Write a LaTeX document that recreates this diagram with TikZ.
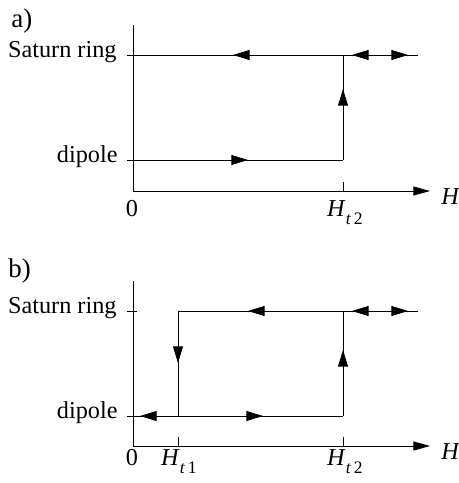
\documentclass[tikz,border=0pt]{standalone}
\usepackage{fontspec}
\setmainfont{Liberation Serif}
\usetikzlibrary{arrows.meta,decorations.markings}

\newcommand{\Hsub}[1]{\textit{H}\raisebox{-0.32em}{\fontsize{15}{18}\selectfont\textit{t}\,#1}}

\begin{document}
\begin{tikzpicture}[x=0.03cm,y=-0.03cm,line width=0.8pt,
  lbl/.style={font=\fontsize{20.7}{24}\selectfont, inner sep=0pt},
  panel/.style={font=\fontsize{23}{26}\selectfont, inner sep=0pt},
  axis/.style={-{Triangle[length=0.5cm,width=0.27cm]}},
  fwd/.style={postaction={decorate,decoration={markings,
    mark=at position #1 with {\arrow{Triangle[length=0.5cm,width=0.3cm]}}}}},
  bwd/.style={postaction={decorate,decoration={markings,
    mark=at position #1 with {\arrowreversed{Triangle[length=0.5cm,width=0.3cm]}}}}}]

  \useasboundingbox (0,0) rectangle (459,483);

  % Teil a)
  \node[panel, anchor=base west] (alab) at (11,28) {a)};
  \coordinate (aO) at (133,191);
  \coordinate (aY) at (133,25);
  \coordinate (aX) at (430,191);
  \coordinate (aDl) at (127,160);
  \coordinate (aDr) at (343,160);
  \coordinate (aSl) at (127,55);
  \coordinate (aSr) at (343,55);
  \coordinate (aSe) at (418,55);
  \coordinate (aT2) at (343,182);

  % Achsen
  \draw[axis] (aY) -- (aO) -- (aX);
  \draw (aT2) -- (aT2 |- aO);

  % Zweige
  \draw[fwd=3.63cm] (aDl) -- (aDr);
  \draw[fwd=2.13cm] (aDr) -- (aSr);
  \draw[fwd=3.3cm] (aSr) -- (aSl);
  \draw[bwd=0.27cm, fwd=1.95cm] (aSr) -- (aSe);

  % Beschriftung
  \node[lbl, anchor=mid east] (asat) at (117,55) {Saturn ring};
  \node[lbl, anchor=mid east] (adip) at (118,160) {dipole};
  \node[lbl, anchor=north] (azero) at (132,200) {0};
  \node[lbl, anchor=north] (aht2) at (345,200) {\Hsub{2}};
  \node[lbl, anchor=base west] (aH) at (441,205) {\textit{H}};

  % Teil b)
  \node[panel, anchor=base west] (blab) at (8,277) {b)};
  \coordinate (bO) at (133,446);
  \coordinate (bY) at (133,281);
  \coordinate (bX) at (430,446);
  \coordinate (bDl) at (127,416);
  \coordinate (bDm) at (178,416);
  \coordinate (bDr) at (343,416);
  \coordinate (bSk) at (127,311);
  \coordinate (bSl) at (178,311);
  \coordinate (bSr) at (343,311);
  \coordinate (bSe) at (418,311);
  \coordinate (bT1) at (178,437);
  \coordinate (bT2) at (343,437);

  % Achsen
  \draw[axis] (bY) -- (bO) -- (bX);
  \draw (bT1) -- (bT1 |- bO);
  \draw (bT2) -- (bT2 |- bO);
  \draw (bSk) -- ++(10,0);

  % Zweige
  \draw[bwd=0.39cm, fwd=4.08cm] (bDl) -- (bDr);
  \draw[fwd=1.98cm] (bDr) -- (bSr);
  \draw[fwd=2.85cm] (bSr) -- (bSl);
  \draw[fwd=1.56cm] (bSl) -- (bDm);
  \draw[bwd=0.27cm, fwd=1.95cm] (bSr) -- (bSe);

  % Beschriftung
  \node[lbl, anchor=mid east] (bsat) at (117,311) {Saturn ring};
  \node[lbl, anchor=mid east] (bdip) at (118,416) {dipole};
  \node[lbl, anchor=north] (bzero) at (132,449) {0};
  \node[lbl, anchor=north] (bht1) at (179,449) {\Hsub{1}};
  \node[lbl, anchor=north] (bht2) at (345,449) {\Hsub{2}};
  \node[lbl, anchor=base west] (bH) at (441,459) {\textit{H}};
\end{tikzpicture}
\end{document}
